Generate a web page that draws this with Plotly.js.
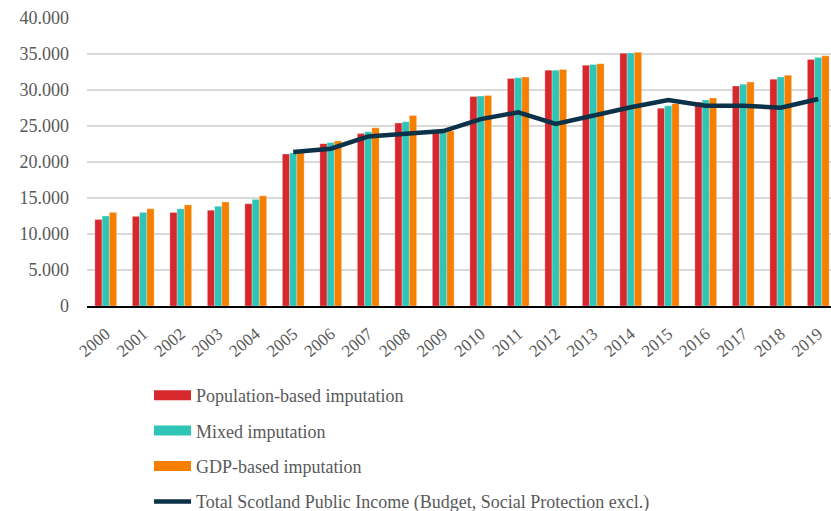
<!DOCTYPE html>
<html>
<head>
<meta charset="utf-8">
<script src="https://cdn.plot.ly/plotly-3.0.1.min.js"></script>
<style>
html,body{margin:0;padding:0;overflow:hidden;background:#fff;}
#chart{width:845px;height:511px;}
</style>
</head>
<body>
<div id="chart"></div>
<script>
const years = ["2000","2001","2002","2003","2004","2005","2006","2007","2008","2009","2010","2011","2012","2013","2014","2015","2016","2017","2018","2019"];
const populationBased = [12000,12450,13000,13300,14200,21100,22550,23950,25400,24050,29100,31600,32750,33450,35100,27450,28300,30550,31500,34250];
const mixedImputation = [12500,13000,13500,13850,14800,21250,22700,24200,25600,24150,29150,31700,32750,33550,35150,27800,28600,30800,31800,34500];
const gdpBased = [13000,13500,14050,14450,15300,21350,22900,24750,26450,24300,29250,31800,32850,33650,35250,28100,28900,31100,32050,34750];
const totalPublicIncome = [null,null,null,null,null,21400,21850,23550,24000,24300,25950,26900,25300,26500,27600,28600,27800,27800,27550,28750];

const seriesNames = ["Population-based imputation","Mixed imputation","GDP-based imputation","Total Scotland Public Income (Budget, Social Protection excl.)"];
const colors = ["#d7282d","#2ec4b6","#f77f00","#0b3249"];
const barSeries = [populationBased, mixedImputation, gdpBased];

const traces = [];
barSeries.forEach((vals, i) => {
  traces.push({
    type: "bar", x: years, y: vals, name: seriesNames[i], showlegend: false,
    marker: {color: colors[i], line: {color: "rgba(255,255,255,0.45)", width: 0.6}},
    hoverinfo: "x+y+name"
  });
});
traces.push({
  type: "scatter", mode: "lines", x: years, y: totalPublicIncome, name: seriesNames[3],
  line: {color: colors[3], width: 4.5}, connectgaps: false, showlegend: false
});
// legend entries
seriesNames.forEach((n, i) => {
  traces.push({
    type: "scatter", mode: "lines", x: [null], y: [null], name: n,
    legendgroup: "g" + i, showlegend: true, hoverinfo: "skip",
    line: {color: colors[i], width: i < 3 ? 10 : 4.5}
  });
});

const font = {family: "'Liberation Serif', 'DejaVu Serif', serif", color: "#595959"};

const layout = {
  width: 845, height: 511,
  margin: {l: 87, r: 8, t: 18, b: 205, autoexpand: false},
  paper_bgcolor: "#fff", plot_bgcolor: "#fff",
  separators: ",.",
  barmode: "group", bargap: 0.42, bargroupgap: 0,
  font: Object.assign({size: 15}, font),
  xaxis: {
    type: "category", tickangle: -40, showgrid: false, zeroline: false,
    showline: true, linecolor: "#000", linewidth: 1.5, ticks: "",
    ticklabelstandoff: 10,
    tickfont: Object.assign({size: 17}, font), fixedrange: true, automargin: false
  },
  yaxis: {
    range: [0, 40000], dtick: 5000, tickformat: ",d",
    showgrid: true, gridcolor: "#d9d9d9", gridwidth: 1.3, zeroline: false,
    showline: false, ticks: "", ticklabelstandoff: 17,
    tickfont: Object.assign({size: 18}, font), fixedrange: true, automargin: false
  },
  showlegend: true,
  legend: {
    orientation: "v", xref: "container", yref: "container",
    x: 149/845, y: 1 - 377/511, xanchor: "left", yanchor: "top",
    font: Object.assign({size: 18}, font), tracegroupgap: 9, itemwidth: 37,
    bgcolor: "rgba(0,0,0,0)"
  }
};

Plotly.newPlot("chart", traces, layout, {displayModeBar: false, staticPlot: true});
</script>
</body>
</html>
